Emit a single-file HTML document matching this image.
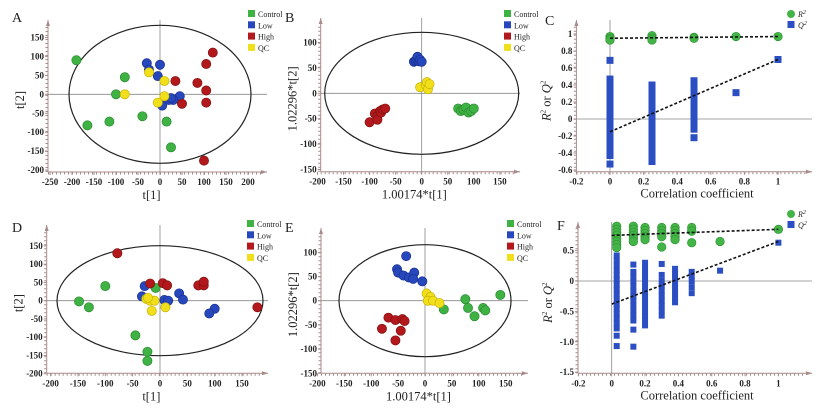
<!DOCTYPE html>
<html><head><meta charset="utf-8">
<style>
html,body{margin:0;padding:0;background:#fff;width:821px;height:413px;overflow:hidden}
svg{display:block}
text{font-family:"Liberation Serif",serif;fill:#222}
.tk{font-size:9px;font-weight:bold}
.tt{font-size:12.5px}
.pl{font-size:14px}
.lg{font-size:8px}
</style></head>
<body>
<svg id="fig" width="821" height="413" viewBox="0 0 821 413"></svg>
<script>
// ---- Panel A data ----
const aCtrlX=[-190,-80,-100,-40,-115,-165,15,25];
const aCtrlY=[90,45,0,-58,-72,-82,-72,-140];
const aLowX=[-30,0,-25,-5,45,30,20,5,25];
const aLowY=[82,78,65,48,-5,-15,-15,-30,-10];
const aHighX=[120,105,35,85,105,50,105,100];
const aHighY=[110,80,35,30,10,-25,-22,-175];
const aQcX=[-80,-25,10,10,-5];
const aQcY=[0,58,35,-5,-22];
// ---- Panel B data ----
const bCtrlX=[70,75,80,85,90,95,100];
const bCtrlY=[-30,-35,-32,-28,-38,-35,-30];
const bLowX=[-15,-12,-10,-8,-5,-3,0];
const bLowY=[62,64,67,72,63,66,62];
const bHighX=[-100,-90,-85,-85,-80,-78,-75,-70];
const bHighY=[-57,-40,-45,-52,-35,-38,-32,-30];
const bQcX=[-3,8,10,12,15];
const bQcY=[12,15,22,8,18];
// ---- Panel D data ----
const dCtrlX=[-148,-130,-100,-45,-23,-23,-8];
const dCtrlY=[-2,-18,40,-95,-140,-165,35];
const dLowX=[-28,-33,8,15,35,42,100,90];
const dLowY=[40,12,2,0,20,3,-22,-35];
const dHighX=[-78,-18,5,13,70,80,80,178];
const dHighY=[130,47,48,42,42,42,52,-18];
const dQcX=[-25,-18,-10,-15,10,-22];
const dQcY=[5,0,0,-28,-18,8];
// ---- Panel E data ----
const eCtrlX=[35,75,80,92,108,112,140];
const eCtrlY=[-18,3,-15,-32,-15,-20,12];
const eLowX=[-35,-52,-50,-40,-30,-20,-22,-5];
const eLowY=[92,65,58,52,48,58,45,40];
const eHighX=[-68,-80,-55,-42,-38,-45,-55];
const eHighY=[-35,-58,-40,-38,-42,-62,-82];
const eQcX=[3,10,5,15,27];
const eQcY=[15,8,0,0,-5];
// ---- Panel C permutation data ----
const cR2X=[0,0,0,0.25,0.25,0.25,0.5,0.5,0.75,1];
const cR2Y=[0.97,0.95,0.93,0.98,0.95,0.93,0.96,0.95,0.97,0.97];
const cQ2X=[0,0,0,0,0,0,0,0,0,0,0,0,0,0,0,0,0,0,0,0,0,
 0.25,0.25,0.25,0.25,0.25,0.25,0.25,0.25,0.25,0.25,0.25,0.25,0.25,0.25,0.25,0.25,0.25,0.25,0.25,
 0.5,0.5,0.5,0.5,0.5,0.5,0.5,0.5,0.5,0.5,0.5,0.5,0.5,0.75,1];
const cQ2Y=[0.69,0.47,0.42,0.37,0.32,0.27,0.22,0.17,0.12,0.07,0.02,-0.03,-0.08,-0.13,-0.18,-0.23,-0.28,-0.33,-0.38,-0.43,-0.53,
 0.4,0.35,0.3,0.25,0.2,0.15,0.1,0.05,0,-0.05,-0.1,-0.15,-0.2,-0.25,-0.3,-0.35,-0.4,-0.45,-0.5,
 0.45,0.4,0.35,0.3,0.25,0.2,0.15,0.1,0.05,0,-0.05,-0.12,-0.22,0.31,0.7];
const cR2Line=[0.95,0.97];
const cQ2Line=[-0.15,0.7];
// ---- Panel F permutation data ----
const fR2X=[0.03,0.03,0.03,0.03,0.03,0.03,0.03,0.03,0.13,0.13,0.13,0.13,0.13,0.13,0.2,0.2,0.2,0.2,0.2,0.3,0.3,0.3,0.3,0.3,0.38,0.38,0.38,0.38,0.38,0.48,0.48,0.48,0.65,1];
const fR2Y=[0.9,0.85,0.8,0.75,0.7,0.65,0.6,0.55,0.9,0.85,0.8,0.75,0.7,0.65,0.88,0.83,0.78,0.73,0.68,0.88,0.83,0.78,0.73,0.56,0.88,0.83,0.78,0.73,0.68,0.88,0.82,0.63,0.65,0.85];
const fQ2X=[0.03,0.03,0.03,0.03,0.03,0.03,0.03,0.03,0.03,0.03,0.03,0.03,0.03,0.03,0.03,0.03,0.03,0.03,
 0.13,0.13,0.13,0.13,0.13,0.13,0.13,0.13,0.13,0.13,0.13,0.13,0.13,0.13,
 0.2,0.2,0.2,0.2,0.2,0.2,0.2,0.2,0.2,0.2,0.2,0.2,0.2,0.2,
 0.3,0.3,0.3,0.3,0.3,0.3,0.3,0.3,0.3,0.3,
 0.38,0.38,0.38,0.38,0.38,0.38,0.38,0.38,
 0.48,0.48,0.48,0.48,0.48,0.65,1];
const fQ2Y=[0.42,0.34,0.26,0.18,0.1,0.02,-0.06,-0.14,-0.22,-0.3,-0.38,-0.46,-0.54,-0.62,-0.7,-0.78,-0.9,-1.07,
 0.27,0.15,0.07,-0.01,-0.09,-0.17,-0.25,-0.33,-0.41,-0.49,-0.57,-0.65,-0.8,-1.08,
 0.3,0.22,0.14,0.06,-0.02,-0.1,-0.18,-0.26,-0.34,-0.42,-0.5,-0.58,-0.66,-0.73,
 0.28,0.1,0,-0.08,-0.16,-0.24,-0.32,-0.4,-0.48,-0.57,
 0.2,0.12,0.04,-0.04,-0.12,-0.2,-0.28,-0.35,
 0.15,0.08,0,-0.1,-0.2,0.17,0.63];
const fR2Line=[0.75,0.85];
const fQ2Line=[-0.38,0.65];
// ---- tick labels ----
const aXTicks=[-250,-200,-150,-100,-50,0,50,100,150,200];
const aYTicks=[-200,-150,-100,-50,0,50,100,150];
const bXTicks=[-200,-150,-100,-50,0,50,100,150];
const bYTicks=[-150,-100,-50,0,50,100];
const dXTicks=[-200,-150,-100,-50,0,50,100,150];
const dYTicks=[-200,-150,-100,-50,0,50,100,150];
const eXTicks=[-200,-150,-100,-50,0,50,100,150];
const eYTicks=[-150,-100,-50,0,50,100];
const cXTicks=[-0.2,0,0.2,0.4,0.6,0.8,1];
const cYTicks=[-0.6,-0.4,-0.2,0,0.2,0.4,0.6,0.8,1];
const fXTicks=[-0.2,0,0.2,0.4,0.6,0.8,1];
const fYTicks=[-1.5,-1.0,-0.5,0,0.5];
const groups=['Control','Low','High','QC'];

const NS='http://www.w3.org/2000/svg';
const svg=document.getElementById('fig');
const COL={Control:'#3fb244',Low:'#2747bd',High:'#b3191c',QC:'#f2df1c'};
const STR={Control:'#2a8a30',Low:'#1a3090',High:'#801010',QC:'#c8b400'};
function mk(tag,at,parent){const e=document.createElementNS(NS,tag);for(const k in at)e.setAttribute(k,at[k]);(parent||svg).appendChild(e);return e;}
function txt(s,x,y,cls,anchor,parent){const t=mk('text',{x:x,y:y,class:cls,'text-anchor':anchor||'middle'},parent);t.textContent=s;return t;}

function frame(g,P,xt,yt,xfmt){
  const ax='#a88a8a';
  // axes
  let l=mk('line',{x1:P.L,y1:P.B,x2:P.R,y2:P.B,stroke:ax,'stroke-width':1},g);
  
  
  l=mk('line',{x1:P.L,y1:P.B,x2:P.L,y2:P.T,stroke:ax,'stroke-width':1},g);
  
  
  mk('path',{d:`M${P.R} ${P.B}l-6 -2v4z`,fill:ax},g);
  mk('path',{d:`M${P.L} ${P.T}l-2 6h4z`,fill:ax},g);
  // minor dotted ticks
  mk('line',{x1:P.L,y1:P.B+1.5,x2:P.R-6,y2:P.B+1.5,stroke:ax,'stroke-width':2,'stroke-dasharray':'1 3'},g);
  mk('line',{x1:P.L-1.5,y1:P.B,x2:P.L-1.5,y2:P.T+6,stroke:ax,'stroke-width':2,'stroke-dasharray':'1 3'},g);
  // zero lines
  l=mk('line',{x1:P.L,y1:P.sy(0),x2:P.R,y2:P.sy(0),stroke:'#888','stroke-width':0.8},g);
  
  
  if(P.vz){l=mk('line',{x1:P.sx(0),y1:P.B,x2:P.sx(0),y2:P.T,stroke:'#888','stroke-width':0.8},g);
  
  }
  xt.forEach(v=>{const x=P.sx(v);mk('line',{x1:x,y1:P.B,x2:x,y2:P.B+3,stroke:ax},g);
    const t=txt(xfmt?xfmt(v):String(v),x,P.B+13,'tk','middle',g);
    
    });
  yt.forEach(v=>{const y=P.sy(v);mk('line',{x1:P.L-3,y1:y,x2:P.L,y2:y,stroke:ax},g);
    const t=txt(P.yfmt?P.yfmt(v):String(v),P.L-4,y+3,'tk','end',g);
    
    });
}
function dot(g,x,y,grp){const c=mk('circle',{cx:x,cy:y,r:4.6,fill:COL[grp],stroke:STR[grp],'stroke-width':0.7},g);
  
  }
function legend(g,x,y){groups.forEach((n,i)=>{const yy=y+i*11.3;
  const r=mk('rect',{x:x,y:yy-4,width:7,height:7,fill:COL[n]},g);
  
  
  const t=txt(n,x+10,yy+3,'lg','start',g);
  
  });}

function scatterPanel(name,P,xt,yt,data,ell,label,lab,xtitle,ytitle,leg){
  const g=mk('g',{});
  
  
  frame(g,P,xt,yt);
  const e=mk('ellipse',{cx:P.sx(0),cy:P.sy(0),rx:ell[0],ry:ell[1],fill:'none',stroke:'#222','stroke-width':1.2},g);
  
  
  data.forEach(d=>{for(let i=0;i<d[1].length;i++)dot(g,P.sx(d[1][i]),P.sy(d[2][i]),d[0]);});
  let t=txt(label,lab[0],lab[1],'pl','start',g);
  
  
  t=txt(xtitle,(P.L+P.R)/2-6,P.B+27,'tt','middle',g);
  
  
  t=txt(ytitle,0,0,'tt','middle',g);t.setAttribute('transform',`translate(${P.L-24},${(P.T+P.B)/2+4}) rotate(-90)`);
  
  
  legend(g,leg[0],leg[1]);
}
function mkP(X0,kx,Y0,ky,L,B,R,T){return {sx:v=>X0+v*kx,sy:v=>Y0-v*ky,L:L,B:B,R:R,T:T,vz:true};}

scatterPanel('panel-a-pca',mkP(160,0.44,94.3,0.379,48,172,267,20),aXTicks,aYTicks,
 [['Control',aCtrlX,aCtrlY],['Low',aLowX,aLowY],['High',aHighX,aHighY],['QC',aQcX,aQcY]],[91,69],'A',[12,22],'t[1]','t[2]',[248,14]);
scatterPanel('panel-b-pls-da',mkP(421.7,0.521,93.3,0.508,320.7,171.7,520,18),bXTicks,bYTicks,
 [['Control',bCtrlX,bCtrlY],['Low',bLowX,bLowY],['High',bHighX,bHighY],['QC',bQcX,bQcY]],[97,61],'B',[285,22],'1.00174*t[1]','1.02296*t[2]',[504,14]);
scatterPanel('panel-d-pca',mkP(160,0.547,300.7,0.365,46.7,373.3,268,225),dXTicks,dYTicks,
 [['Control',dCtrlX,dCtrlY],['Low',dLowX,dLowY],['High',dHighX,dHighY],['QC',dQcX,dQcY]],[103,55],'D',[12,232],'t[1]','t[2]',[247,224]);
scatterPanel('panel-e-pls-da',mkP(425,0.538,300.7,0.484,321,373.3,528,228),eXTicks,eYTicks,
 [['Control',eCtrlX,eCtrlY],['Low',eLowX,eLowY],['High',eHighX,eHighY],['QC',eQcX,eQcY]],[86,56],'E',[285,232],'1.00174*t[1]','1.02296*t[2]',[507,224]);

function permPanel(name,P,xt,yt,r2x,r2y,q2x,q2y,r2l,q2l,label,lab,leg,sq){
  const g=mk('g',{});
  
  
  frame(g,P,xt,yt,v=>String(v));
  q2x.forEach((x,i)=>{const r=mk('rect',{x:P.sx(x)-sq/2,y:P.sy(q2y[i])-sq/2,width:sq,height:sq,fill:'#2b4fc2'},g);
    
    });
  r2x.forEach((x,i)=>{const c=mk('circle',{cx:P.sx(x),cy:P.sy(r2y[i]),r:4.3,fill:'#43b547',stroke:'#2f9033','stroke-width':0.6},g);
    
    });
  let l=mk('line',{x1:P.sx(0),y1:P.sy(r2l[0]),x2:P.sx(1),y2:P.sy(r2l[1]),stroke:'#111','stroke-width':1.6,'stroke-dasharray':'3 2'},g);
  
  
  l=mk('line',{x1:P.sx(0),y1:P.sy(q2l[0]),x2:P.sx(1),y2:P.sy(q2l[1]),stroke:'#111','stroke-width':1.6,'stroke-dasharray':'3 2'},g);
  
  
  let t=txt(label,lab[0],lab[1],'pl','start',g);
  
  
  t=txt('Correlation coefficient',697,P.B+26,'tt','middle',g);
  
  
  t=mk('text',{class:'tt','text-anchor':'middle',transform:`translate(${P.L-26},${(P.T+P.B)/2+5}) rotate(-90)`},g);
  t.innerHTML='<tspan font-style="italic">R</tspan><tspan font-size="7" dy="-5">2</tspan><tspan dy="5"> or </tspan><tspan font-style="italic">Q</tspan><tspan font-size="7" dy="-5">2</tspan>';
  
  
  const c=mk('circle',{cx:leg[0],cy:leg[1],r:4,fill:'#43b547'},g);
  
  
  const r=mk('rect',{x:leg[0]-3.5,y:leg[1]+7,width:7,height:7,fill:'#2b4fc2'},g);
  
  
  t=mk('text',{x:leg[0]+7,y:leg[1]+3,class:'lg','text-anchor':'start','font-style':'italic'},g);t.innerHTML='R<tspan font-size="6" dy="-3">2</tspan>';
  
  
  t=mk('text',{x:leg[0]+7,y:leg[1]+14,class:'lg','text-anchor':'start','font-style':'italic'},g);t.innerHTML='Q<tspan font-size="6" dy="-3">2</tspan>';
  
  
}
const PC=mkP(610,168,119,85,576.4,171.7,812,20);
permPanel('panel-c-permutation',PC,cXTicks,cYTicks,cR2X,cR2Y,cQ2X,cQ2Y,cR2Line,cQ2Line,'C',[545,25],[791,14],7);
const PF=mkP(611.7,166.7,281,60.8,578,373.3,812,222);
PF.yfmt=v=>(v===-1.5||v===-1||v===-0.5||v===0.5)?(v===-1?'-1.0':String(v)):String(v);
permPanel('panel-f-permutation',PF,fXTicks,fYTicks,fR2X,fR2Y,fQ2X,fQ2Y,fR2Line,fQ2Line,'F',[557,230],[791,214],6);
</script>
</body></html>
